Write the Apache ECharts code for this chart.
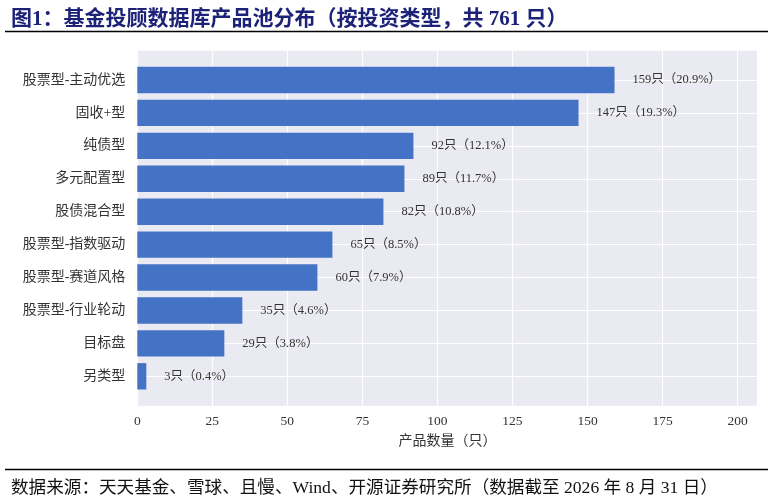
<!DOCTYPE html>
<html>
<head>
<meta charset="utf-8">
<script src="https://cdn.jsdelivr.net/npm/echarts@6/dist/echarts.min.js"></script>
<style>
  html, body { margin: 0; padding: 0; background: #fff; }
  #chart { width: 774px; height: 499px; }
</style>
</head>
<body>
<div id="chart"></div>
<script>
// data
var categories = ['股票型-主动优选', '固收+型', '纯债型', '多元配置型', '股债混合型',
                  '股票型-指数驱动', '股票型-赛道风格', '股票型-行业轮动', '目标盘', '另类型'];
var counts = [159, 147, 92, 89, 82, 65, 60, 35, 29, 3];
var shares = ['20.9%', '19.3%', '12.1%', '11.7%', '10.8%', '8.5%', '7.9%', '4.6%', '3.8%', '0.4%'];
var xTicks = [0, 25, 50, 75, 100, 125, 150, 175, 200];
var catIndex = [0, 1, 2, 3, 4, 5, 6, 7, 8, 9];

var serif = '"Liberation Serif", "Noto Sans CJK SC", serif';

var myChart = echarts.init(document.getElementById('chart'));

// grid 0: the shaded plot area (y from -0.89 to 9.89, like matplotlib margins)
// grid 1: same x range, one band per category, lined up with grid 0's integer rows
var option = {
    backgroundColor: '#fff',
    animation: false,
    title: [
        {
            text: '图1：基金投顾数据库产品池分布（按投资类型，共 761 只）',
            left: 6,
            top: 4,
            textStyle: { fontFamily: serif, fontSize: 21, fontWeight: 'bold', color: '#1c2278' }
        },
        {
            text: '数据来源：天天基金、雪球、且慢、Wind、开源证券研究所（数据截至 2026 年 8 月 31 日）',
            left: 6,
            top: 475,
            textStyle: { fontFamily: serif, fontSize: 17.6, fontWeight: 'normal', color: '#111' }
        }
    ],
    graphic: [
        { type: 'line', shape: { x1: 5, y1: 31.5, x2: 768, y2: 31.5 }, style: { stroke: '#000', lineWidth: 1.5 } },
        { type: 'line', shape: { x1: 5, y1: 469.5, x2: 768, y2: 469.5 }, style: { stroke: '#000', lineWidth: 1.5 } }
    ],
    grid: [
        {
            left: 137.3, right: 16.3, top: 50.7, bottom: 93.3,
            show: true, backgroundColor: '#eaeaf2', borderWidth: 0
        },
        {
            left: 137.3, right: 16.3, top: 63.5, bottom: 106.2,
            show: false
        }
    ],
    xAxis: [
        {
            gridIndex: 0,
            type: 'value',
            min: 0,
            max: 206.7,
            interval: 25,
            name: '产品数量（只）',
            nameLocation: 'middle',
            nameGap: 29,
            nameTextStyle: { fontFamily: serif, fontSize: 14, color: '#333' },
            axisLine: { show: false },
            axisTick: { show: false },
            axisLabel: {
                customValues: xTicks,
                margin: 9,
                fontFamily: serif,
                fontSize: 13.5,
                color: '#333'
            },
            splitLine: { show: true, lineStyle: { color: '#fff', width: 1.2 } }
        },
        {
            gridIndex: 1,
            type: 'value',
            min: 0,
            max: 206.7,
            show: false
        }
    ],
    yAxis: [
        {
            gridIndex: 0,
            type: 'value',
            inverse: true,
            min: -0.89,
            max: 9.89,
            axisLine: { show: false },
            axisTick: { show: false, customValues: catIndex },
            axisLabel: { show: false, customValues: catIndex },
            splitLine: { show: true, lineStyle: { color: '#fff', width: 1.2 } }
        },
        {
            gridIndex: 1,
            type: 'category',
            inverse: true,
            data: categories,
            axisLine: { show: false },
            axisTick: { show: false },
            splitLine: { show: false },
            axisLabel: {
                margin: 12,
                fontFamily: serif,
                fontSize: 14,
                color: '#333'
            }
        }
    ],
    series: [
        {
            type: 'bar',
            xAxisIndex: 1,
            yAxisIndex: 1,
            barWidth: 26.4,
            itemStyle: { color: '#4472c4' },
            data: counts,
            label: {
                show: true,
                position: 'right',
                distance: 18,
                fontFamily: serif,
                fontSize: 12.5,
                color: '#333',
                formatter: function (p) {
                    var i = p.dataIndex;
                    return counts[i] + '只（' + shares[i] + '）';
                }
            }
        }
    ]
};

myChart.setOption(option);
</script>
</body>
</html>
